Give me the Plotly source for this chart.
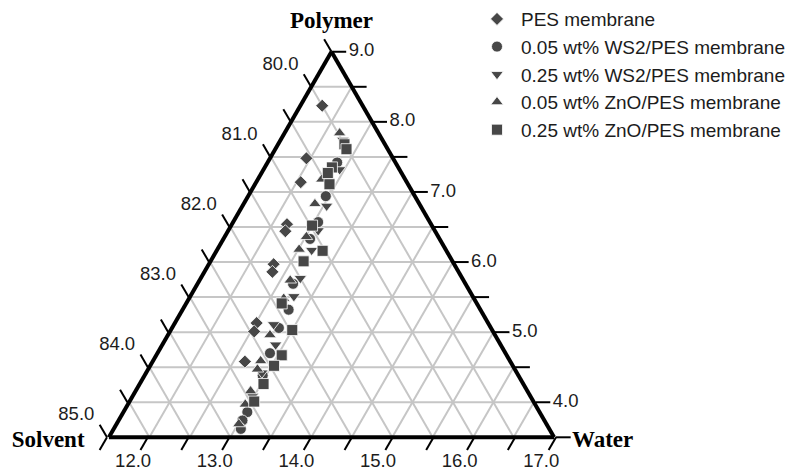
import math
import plotly.graph_objects as go

# ---------------- axis setup (ternary, sum = 100) ----------------
TOTAL = 100.0
POLYMER_MIN = 3.5
SOLVENT_MIN = 79.5
WATER_MIN = 11.5
SPAN = TOTAL - POLYMER_MIN - SOLVENT_MIN - WATER_MIN  # 5.5

polymer_ticks = [3.5, 4.0, 4.5, 5.0, 5.5, 6.0, 6.5, 7.0, 7.5, 8.0, 8.5, 9.0]
solvent_ticks = [79.5, 80.0, 80.5, 81.0, 81.5, 82.0, 82.5, 83.0, 83.5, 84.0, 84.5, 85.0]
water_ticks = [11.5, 12.0, 12.5, 13.0, 13.5, 14.0, 14.5, 15.0, 15.5, 16.0, 16.5, 17.0]

polymer_labels = [4.0, 5.0, 6.0, 7.0, 8.0, 9.0]
solvent_labels = [80.0, 81.0, 82.0, 83.0, 84.0, 85.0]
water_labels = [12.0, 13.0, 14.0, 15.0, 16.0, 17.0]

# ---------------- data (Polymer, Solvent, Water in wt%) ----------------
pes_polymer = [8.23, 7.48, 7.14, 6.54, 6.44, 5.97, 5.86, 5.13, 5.01, 4.58]
pes_solvent = [80.00, 80.57, 80.81, 81.28, 81.35, 81.73, 81.80, 82.36, 82.45, 82.78]
pes_water = [11.77, 11.95, 12.05, 12.18, 12.21, 12.30, 12.34, 12.51, 12.54, 12.64]

ws2_005_polymer = [7.42, 6.94, 6.57, 6.33, 5.69, 5.32, 5.06, 4.70, 4.38, 3.86, 3.74, 3.62]
ws2_005_solvent = [80.22, 80.60, 80.88, 81.10, 81.63, 81.87, 82.12, 82.41, 82.66, 83.11, 83.23, 83.31]
ws2_005_water = [12.36, 12.46, 12.55, 12.57, 12.68, 12.81, 12.82, 12.89, 12.96, 13.03, 13.03, 13.07]

ws2_025_polymer = [7.74, 7.32, 6.80, 6.45, 6.17, 5.77, 5.51, 5.11, 4.82, 4.42, 4.09]
ws2_025_solvent = [79.99, 80.24, 80.66, 80.94, 81.16, 81.50, 81.71, 82.16, 82.28, 82.65, 82.93]
ws2_025_water = [12.27, 12.44, 12.54, 12.61, 12.67, 12.73, 12.78, 12.73, 12.90, 12.93, 12.98]

zno_005_polymer = [7.84, 7.18, 6.83, 6.36, 6.18, 5.74, 5.48, 4.96, 4.59, 4.47, 4.16, 3.97, 3.69]
zno_005_solvent = [79.98, 80.53, 80.79, 81.13, 81.31, 81.64, 81.85, 82.28, 82.58, 82.68, 82.92, 83.08, 83.30]
zno_005_water = [12.18, 12.29, 12.38, 12.51, 12.51, 12.62, 12.67, 12.76, 12.83, 12.85, 12.92, 12.95, 13.01]

zno_025_polymer = [7.68, 7.61, 7.35, 7.27, 7.11, 6.52, 6.16, 6.01, 5.41, 5.03, 4.67, 4.52, 4.26, 4.01]
zno_025_solvent = [80.00, 80.01, 80.32, 80.41, 80.47, 80.98, 81.03, 81.34, 81.91, 81.97, 82.28, 82.45, 82.71, 82.95]
zno_025_water = [12.32, 12.38, 12.33, 12.32, 12.42, 12.50, 12.81, 12.65, 12.68, 13.00, 13.05, 13.03, 13.03, 13.04]

series_names = [
    "PES membrane",
    "0.05 wt% WS2/PES membrane",
    "0.25 wt% WS2/PES membrane",
    "0.05 wt% ZnO/PES membrane",
    "0.25 wt% ZnO/PES membrane",
]

# ---------------- layout geometry ----------------
FIG_W, FIG_H = 798, 473
TRI_LEFT_PX, TRI_RIGHT_PX, TRI_BOTTOM_PX = 107, 556, 437
PX_PER_UNIT = (TRI_RIGHT_PX - TRI_LEFT_PX) / SPAN
TRI_H_PX = (TRI_RIGHT_PX - TRI_LEFT_PX) * math.sqrt(3) / 2

MARK_COLOR = "#474747"
TEXT_COLOR = "#1c1c1c"
TICK_FONT = dict(family="Liberation Sans, Arial, sans-serif", size=18.5, color=TEXT_COLOR)
TITLE_FONT = dict(family="Liberation Serif, Times New Roman, serif", size=23, color="#000000")
TICK_LEN = 0.18
R3 = math.sqrt(3) / 2


def to_xy(p, s, w):
    """Ternary (polymer, solvent, water) -> overlay cartesian units."""
    return (w - WATER_MIN) + (p - POLYMER_MIN) / 2, (p - POLYMER_MIN) * R3


fig = go.Figure()

# ---------------- data series on the ternary subplot ----------------
series = [
    (pes_polymer, pes_solvent, pes_water, "diamond", 10),
    (ws2_005_polymer, ws2_005_solvent, ws2_005_water, "circle", 11),
    (ws2_025_polymer, ws2_025_solvent, ws2_025_water, "triangle-down", 11),
    (zno_005_polymer, zno_005_solvent, zno_005_water, "triangle-up", 11),
    (zno_025_polymer, zno_025_solvent, zno_025_water, "square", 11),
]
for name, (pa, pb, pc, sym, sz) in zip(series_names, series):
    fig.add_trace(go.Scatterternary(
        a=pa, b=pb, c=pc, mode="markers", name=name,
        marker=dict(symbol=sym, size=sz, color=MARK_COLOR,
                    line=dict(color="white", width=0.8)),
        hoverinfo="skip",
    ))

# ---------------- tick marks on an overlay cartesian frame ----------------
tx, ty = [], []


def seg(p0, p1):
    x0, y0 = to_xy(*p0)
    x1, y1 = to_xy(*p1)
    tx.extend([x0, x1, None])
    ty.extend([y0, y1, None])


for p in polymer_ticks:  # right edge, horizontal ticks
    w = TOTAL - p - SOLVENT_MIN
    seg((p, SOLVENT_MIN, w), (p, SOLVENT_MIN - TICK_LEN, w + TICK_LEN))
for s in solvent_ticks:  # left edge, ticks up-left
    p = TOTAL - s - WATER_MIN
    seg((p, s, WATER_MIN), (p + TICK_LEN, s, WATER_MIN - TICK_LEN))
for w in water_ticks:  # bottom edge, ticks down-left
    s = TOTAL - w - POLYMER_MIN
    seg((POLYMER_MIN, s, w), (POLYMER_MIN - TICK_LEN, s + TICK_LEN, w))

fig.add_trace(go.Scatter(
    x=tx, y=ty, mode="lines", line=dict(color="black", width=2),
    showlegend=False, hoverinfo="skip", cliponaxis=False,
))

# ---------------- tick labels ----------------
d = 0.21
pts = [to_xy(p, SOLVENT_MIN - d, TOTAL - p - SOLVENT_MIN + d) for p in polymer_labels]
fig.add_trace(go.Scatter(
    x=[q[0] for q in pts], y=[q[1] for q in pts], mode="text",
    text=[f"{p:.1f}" for p in polymer_labels], textposition="middle right",
    textfont=TICK_FONT, showlegend=False, hoverinfo="skip", cliponaxis=False,
))
d = 0.31
pts = [to_xy(TOTAL - s - WATER_MIN + d, s, WATER_MIN - d) for s in solvent_labels]
fig.add_trace(go.Scatter(
    x=[q[0] for q in pts], y=[q[1] for q in pts], mode="text",
    text=[f"{s:.1f}" for s in solvent_labels], textposition="middle left",
    textfont=TICK_FONT, showlegend=False, hoverinfo="skip", cliponaxis=False,
))
d = 0.36
pts = [to_xy(POLYMER_MIN - d, TOTAL - w - POLYMER_MIN + d, w) for w in water_labels]
fig.add_trace(go.Scatter(
    x=[q[0] for q in pts], y=[q[1] for q in pts], mode="text",
    text=[f"{w:.1f}" for w in water_labels], textposition="middle center",
    textfont=TICK_FONT, showlegend=False, hoverinfo="skip", cliponaxis=False,
))

# ---------------- vertex titles ----------------
e_top, e_left, e_right, e_down = 0.21, 0.25, 0.17, 0.05
PMAX = TOTAL - SOLVENT_MIN - WATER_MIN
SMAX = TOTAL - POLYMER_MIN - WATER_MIN
WMAX = TOTAL - POLYMER_MIN - SOLVENT_MIN
pts = [
    to_xy(PMAX + 2 * e_top, SOLVENT_MIN - e_top, WATER_MIN - e_top),
    to_xy(POLYMER_MIN - e_down, SMAX + e_left + e_down, WATER_MIN - e_left),
    to_xy(POLYMER_MIN - e_down, SOLVENT_MIN - e_right, WMAX + e_right + e_down),
]
fig.add_trace(go.Scatter(
    x=[q[0] for q in pts], y=[q[1] for q in pts], mode="text",
    text=["<b>Polymer</b>", "<b>Solvent</b>", "<b>Water</b>"],
    textposition=["middle center", "middle left", "middle right"],
    textfont=TITLE_FONT, showlegend=False, hoverinfo="skip", cliponaxis=False,
))

axis_common = dict(
    showticklabels=False, ticks="", showgrid=True,
    gridcolor="#c6c6c6", gridwidth=1.5,
    showline=True, linecolor="black", linewidth=4,
    tickmode="linear", tick0=0, dtick=0.5, title=dict(text=""),
)

# cartesian overlay spans the whole figure with the same px-per-unit as the triangle
x_range = [-TRI_LEFT_PX / PX_PER_UNIT, (FIG_W - TRI_LEFT_PX) / PX_PER_UNIT]
bottom_from_base = FIG_H - TRI_BOTTOM_PX
y_range = [-bottom_from_base / PX_PER_UNIT, (FIG_H - bottom_from_base) / PX_PER_UNIT]

fig.update_layout(
    width=FIG_W, height=FIG_H,
    margin=dict(l=0, r=0, t=0, b=0),
    paper_bgcolor="white", plot_bgcolor="rgba(0,0,0,0)",
    xaxis=dict(domain=[0, 1], range=x_range, visible=False, fixedrange=True),
    yaxis=dict(domain=[0, 1], range=y_range, visible=False, fixedrange=True),
    ternary=dict(
        sum=TOTAL,
        domain=dict(x=[TRI_LEFT_PX / FIG_W, TRI_RIGHT_PX / FIG_W],
                    y=[bottom_from_base / FIG_H, (bottom_from_base + TRI_H_PX) / FIG_H]),
        bgcolor="white",
        aaxis=dict(min=POLYMER_MIN, **axis_common),
        baxis=dict(min=SOLVENT_MIN, **axis_common),
        caxis=dict(min=WATER_MIN, **axis_common),
    ),
    legend=dict(
        x=473 / FIG_W, y=1 + 4 / FIG_H, xanchor="left", yanchor="top",
        bgcolor="rgba(0,0,0,0)", borderwidth=0,
        font=dict(family="Liberation Sans, Arial, sans-serif", size=19, color=TEXT_COLOR),
        itemwidth=38, tracegroupgap=0,
    ),
    showlegend=True,
)

fig.write_html("out.html", config={"displayModeBar": False},
               post_script="document.body.style.margin='0';")
